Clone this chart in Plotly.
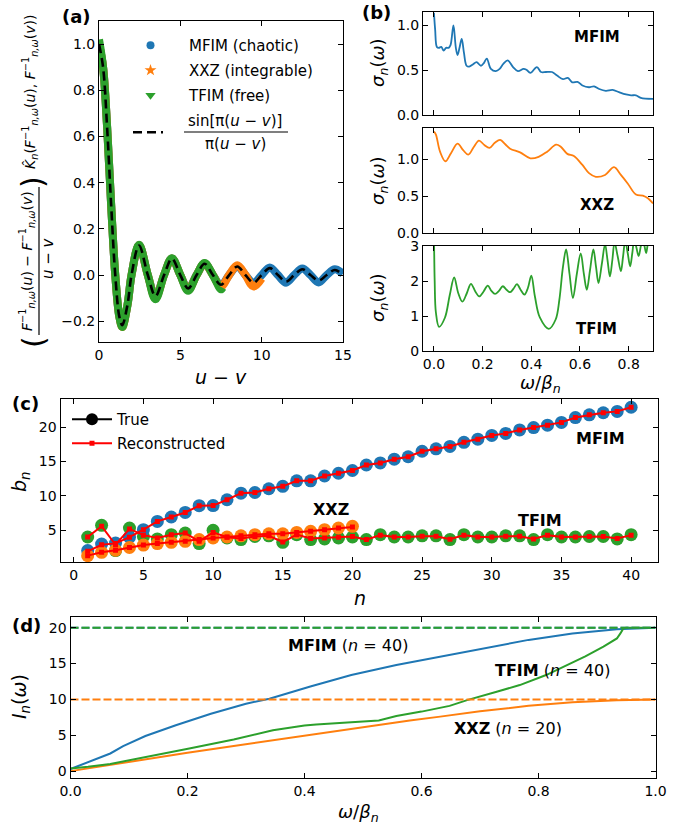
import plotly.graph_objects as go

W, H = 683, 829
FONT = "DejaVu Sans"
BLUE, ORANGE, GREEN, RED = "#1f77b4", "#ff7f0e", "#2ca02c", "#ff0000"

# ---------------- panel (a): kernel vs u - v ----------------
uv = [0, 0.25, 0.5, 0.75, 1.0, 1.25, 1.43, 1.75, 2.0, 2.46, 3.0, 3.47, 4.0, 4.48, 5.0,
      5.48, 6.0, 6.49, 7.0, 7.5, 8.0, 8.5, 9.0, 9.5, 10.0, 10.5, 11.0, 11.5, 12.0,
      12.5, 13.0, 13.5, 14.0, 14.5, 15.0]
sinc_ref = [1.0, 0.900, 0.637, 0.300, 0.0, -0.180, -0.217, -0.129, 0.0, 0.128, 0.0,
            -0.091, 0.0, 0.071, 0.0, -0.058, 0.0, 0.049, 0.0, -0.042, 0.0, 0.037, 0.0,
            -0.033, 0.0, 0.030, 0.0, -0.028, 0.0, 0.025, 0.0, -0.024, 0.0, 0.022, 0.0]
kernel_mfim = [1.0, 0.90, 0.64, 0.30, 0.0, -0.18, -0.22, -0.13, 0.0, 0.13, 0.0, -0.095,
               0.0, 0.072, 0.0, -0.06, 0.0, 0.05, 0.0, -0.045, 0.0, 0.038, 0.0, -0.035,
               0.0, 0.033, 0.0, -0.033, 0.0, 0.028, 0.0, -0.032, 0.0, 0.025, 0.005]
uv_xxz = uv[:25]
kernel_xxz = [1.0, 0.90, 0.64, 0.30, 0.0, -0.18, -0.225, -0.13, 0.0, 0.13, 0.0, -0.10,
              0.0, 0.072, 0.0, -0.065, 0.0, 0.05, 0.0, -0.05, 0.0, 0.042, 0.0, -0.05, -0.015]
uv_tfim = uv[:20] + [7.6]
kernel_tfim = [1.02, 0.90, 0.64, 0.30, 0.0, -0.18, -0.225, -0.13, 0.0, 0.131, 0.0, -0.105,
               0.0, 0.073, 0.0, -0.068, 0.0, 0.052, 0.0, -0.062, -0.055]

# ---------------- panel (b): sigma_n(omega) ----------------
omega_mfim = [0.0, 0.005, 0.012, 0.02, 0.03, 0.04, 0.05, 0.06, 0.068, 0.08, 0.09, 0.097,
              0.105, 0.114, 0.123, 0.134, 0.145, 0.16, 0.175, 0.193, 0.205, 0.217, 0.234,
              0.254, 0.27, 0.285, 0.303, 0.325, 0.345, 0.368, 0.38, 0.396, 0.423, 0.44,
              0.46, 0.485, 0.506, 0.53, 0.55, 0.568, 0.59, 0.61, 0.637, 0.658, 0.679,
              0.706, 0.734, 0.76, 0.789, 0.81, 0.83, 0.85, 0.9]
sigma_mfim = [1.14, 0.95, 0.76, 0.75, 0.76, 0.72, 0.75, 0.75, 0.78, 1.0, 0.75, 0.67,
              0.75, 0.85, 0.70, 0.55, 0.54, 0.565, 0.59, 0.55, 0.58, 0.63, 0.515, 0.49,
              0.515, 0.57, 0.61, 0.535, 0.49, 0.515, 0.505, 0.47, 0.535, 0.48, 0.48, 0.48,
              0.44, 0.40, 0.415, 0.365, 0.37, 0.33, 0.31, 0.32, 0.29, 0.27, 0.28, 0.255,
              0.23, 0.22, 0.22, 0.19, 0.18]
omega_xxz = [0.0, 0.008, 0.025, 0.047, 0.07, 0.097, 0.12, 0.141, 0.163, 0.185, 0.207,
             0.228, 0.25, 0.272, 0.293, 0.313, 0.354, 0.396, 0.43, 0.465, 0.502, 0.52,
             0.548, 0.575, 0.61, 0.637, 0.665, 0.703, 0.74, 0.768, 0.796, 0.83, 0.858,
             0.879, 0.9]
sigma_xxz = [1.37, 1.33, 1.10, 0.97, 1.08, 1.21, 1.12, 1.06, 1.16, 1.25, 1.19, 1.15,
             1.22, 1.26, 1.20, 1.14, 1.09, 1.01, 1.03, 1.10, 1.195, 1.17, 1.07, 1.04,
             0.92, 0.81, 0.76, 0.785, 0.89, 0.785, 0.67, 0.52, 0.505, 0.47, 0.40]
omega_tfim = [0.0, 0.003, 0.008, 0.021, 0.045, 0.065, 0.083, 0.1, 0.117, 0.135, 0.152,
              0.17, 0.186, 0.204, 0.221, 0.236, 0.251, 0.267, 0.283, 0.298, 0.313, 0.327,
              0.341, 0.356, 0.372, 0.386, 0.4, 0.415, 0.435, 0.472, 0.5, 0.515, 0.53,
              0.543, 0.557, 0.571, 0.587, 0.603, 0.616, 0.628, 0.641, 0.655, 0.666, 0.676,
              0.69, 0.703, 0.713, 0.723, 0.733, 0.742, 0.755, 0.768, 0.777, 0.786, 0.796,
              0.806, 0.815, 0.823, 0.832, 0.841, 0.85, 0.858, 0.865, 0.872, 0.88, 0.888, 0.9]
sigma_tfim = [3.5, 2.0, 1.1, 0.69, 0.95, 1.6, 2.1, 1.65, 1.41, 1.65, 1.92, 1.7, 1.56,
              1.7, 1.87, 1.72, 1.63, 1.72, 1.85, 1.75, 1.68, 1.78, 1.91, 1.75, 1.61, 1.8,
              2.15, 1.55, 0.96, 0.635, 0.9, 1.45, 2.4, 2.9, 2.2, 1.51, 2.2, 2.79, 2.2,
              1.75, 2.3, 2.9, 2.4, 1.94, 2.5, 3.05, 2.6, 2.13, 2.6, 3.1, 2.7, 2.28, 2.7,
              3.15, 2.8, 2.42, 2.8, 3.2, 2.95, 2.71, 3.0, 3.2, 3.0, 2.8, 3.1, 3.2, 3.1]

# ---------------- panel (c): Lanczos coefficients b_n ----------------
n_40 = list(range(1, 41))
n_20 = list(range(1, 21))
bn_mfim_true = [2.05, 3.0, 3.15, 4.0, 5.1, 6.3, 6.94, 7.6, 8.58, 8.6, 9.45, 10.4, 10.5,
                11.05, 11.4, 12.2, 12.2, 12.9, 13.3, 13.7, 14.5, 14.8, 15.35, 15.7, 16.5,
                16.85, 17.2, 17.8, 18.26, 18.8, 19.1, 19.6, 19.95, 20.3, 20.7, 21.4, 21.8,
                22.1, 22.3, 22.9]
bn_mfim_rec = [1.95, 2.9, 3.1, 4.0, 5.1, 6.3, 6.94, 7.6, 8.58, 8.6, 9.45, 10.4, 10.5,
               11.05, 11.4, 12.2, 12.2, 12.9, 13.3, 13.7, 14.5, 14.8, 15.35, 15.7, 16.5,
               16.85, 17.2, 17.8, 18.26, 18.8, 19.1, 19.6, 19.95, 20.3, 20.7, 21.4, 21.8,
               22.1, 22.3, 22.9]
bn_xxz_true = [1.32, 1.8, 2.1, 2.5, 2.85, 3.07, 3.26, 3.4, 3.65, 3.9, 4.03, 4.2, 4.37,
               4.5, 4.5, 4.7, 4.86, 5.1, 5.34, 5.58]
bn_xxz_rec = [1.32, 1.8, 2.1, 2.5, 2.85, 3.07, 3.26, 3.4, 3.65, 3.9, 4.03, 4.2, 4.37,
              4.5, 4.5, 4.7, 4.86, 5.1, 5.34, 5.5]
bn_tfim_true = [4.03, 5.73, 2.05, 5.34, 4.1, 3.75, 4.37, 4.6, 3.07, 5.0, 3.9, 3.65, 4.1,
                4.2, 3.26, 4.37, 3.65, 3.75, 3.9, 4.03, 3.65, 4.37, 4.03, 4.03, 4.2, 4.2,
                3.65, 4.37, 4.03, 4.03, 4.2, 4.2, 3.65, 4.37, 4.03, 4.03, 4.1, 4.1, 3.75,
                4.37]
bn_tfim_rec = [4.03, 5.6, 2.9, 5.2, 4.3, 3.9, 4.37, 4.6, 3.4, 4.7, 4.0, 3.8, 4.1, 4.2,
               3.3, 4.37, 3.8, 3.9, 4.0, 4.1, 3.65, 4.3, 4.03, 4.03, 4.15, 4.15, 3.7,
               4.3, 4.03, 4.03, 4.15, 4.15, 3.75, 4.3, 4.03, 4.03, 4.1, 4.1, 3.8, 4.3]

# ---------------- panel (d): I_n(omega) ----------------
w_mfim = [0.0, 0.03, 0.068, 0.09, 0.128, 0.18, 0.24, 0.30, 0.34, 0.41, 0.48, 0.557,
          0.632, 0.708, 0.783, 0.858, 0.934, 1.0]
I_mfim = [0.3, 1.3, 2.46, 3.5, 4.9, 6.4, 8.0, 9.4, 10.1, 11.8, 13.4, 14.8, 15.95, 17.1,
          18.3, 19.2, 19.77, 20.0]
w_tfim = [0.0, 0.03, 0.068, 0.128, 0.203, 0.279, 0.346, 0.4, 0.42, 0.48, 0.527, 0.557,
          0.6, 0.648, 0.678, 0.73, 0.768, 0.813, 0.85, 0.88, 0.911, 0.934, 0.94, 0.945,
          0.95, 1.0]
I_tfim = [0.37, 0.6, 1.0, 2.0, 3.16, 4.4, 5.7, 6.35, 6.5, 6.8, 7.05, 7.7, 8.3, 9.1,
          9.9, 11.1, 12.0, 13.4, 14.8, 16.0, 17.35, 18.5, 19.2, 19.9, 20.0, 20.0]
w_xxz = [0.0, 0.068, 0.128, 0.2, 0.279, 0.354, 0.41, 0.48, 0.53, 0.58, 0.632, 0.7,
         0.783, 0.858, 0.934, 1.0]
I_xxz = [0.0, 0.9, 1.67, 2.56, 3.5, 4.4, 5.1, 5.9, 6.45, 7.05, 7.6, 8.35, 9.1, 9.6,
         9.9, 10.0]
w_limits = [0.0, 1.0]
I_limit_mfim = [20, 20]
I_limit_xxz = [10, 10]
I_limit_tfim = [20, 20]

# ================= figure =================
fig = go.Figure()

def dom_x(a, b):
    return [a / W, b / W]

def dom_y(top, bottom):
    return [1 - bottom / H, 1 - top / H]

def axis(domain, rng, tickvals, ticktext=None, labels=True, anchor=None):
    d = dict(domain=domain, range=rng, showline=True, linecolor="black", linewidth=1,
             mirror="allticks", ticks="inside", ticklen=5, tickwidth=1, tickcolor="black",
             showgrid=False, zeroline=False, tickvals=tickvals, showticklabels=labels,
             automargin=False,
             tickfont=dict(family=FONT, size=14, color="black"), anchor=anchor)
    if ticktext is not None:
        d["ticktext"] = ticktext
    return d

# panel (a) traces
fig.add_trace(go.Scatter(x=uv, y=kernel_mfim, mode="lines", line=dict(color=BLUE, width=8, shape="spline"),
                         showlegend=False, xaxis="x", yaxis="y"))
fig.add_trace(go.Scatter(x=uv_xxz, y=kernel_xxz, mode="lines", line=dict(color=ORANGE, width=8, shape="spline"),
                         showlegend=False, xaxis="x", yaxis="y"))
fig.add_trace(go.Scatter(x=uv_tfim, y=kernel_tfim, mode="lines", line=dict(color=GREEN, width=8, shape="spline"),
                         showlegend=False, xaxis="x", yaxis="y"))
fig.add_trace(go.Scatter(x=uv, y=sinc_ref, mode="lines",
                         line=dict(color="black", width=2.6, dash="9px,5px", shape="spline"),
                         showlegend=False, xaxis="x", yaxis="y"))
# legend entries for (a)
for nm, col, sym, sz in (("MFIM (chaotic)", BLUE, "circle", 8), ("XXZ (integrable)", ORANGE, "star", 9),
                         ("TFIM (free)", GREEN, "triangle-down", 9)):
    fig.add_trace(go.Scatter(x=[None], y=[None], mode="markers", name=nm, legendgroup=nm,
                             marker=dict(color=col, size=sz, symbol=sym), legend="legend",
                             xaxis="x", yaxis="y"))
fig.add_trace(go.Scatter(x=[None], y=[None], mode="lines", name=" ",
                         line=dict(color="black", width=2.6, dash="9px,5px"), legend="legend3", xaxis="x", yaxis="y"))

# panel (b) traces
fig.add_trace(go.Scatter(x=omega_mfim, y=sigma_mfim, mode="lines", line=dict(color=BLUE, width=1.8, shape="spline"),
                         showlegend=False, xaxis="x2", yaxis="y2"))
fig.add_trace(go.Scatter(x=omega_xxz, y=sigma_xxz, mode="lines", line=dict(color=ORANGE, width=1.8, shape="spline"),
                         showlegend=False, xaxis="x3", yaxis="y3"))
fig.add_trace(go.Scatter(x=omega_tfim, y=sigma_tfim, mode="lines", line=dict(color=GREEN, width=1.8, shape="spline"),
                         showlegend=False, xaxis="x4", yaxis="y4"))

# panel (c) traces
fig.add_trace(go.Scatter(x=n_40, y=bn_tfim_true, mode="markers", marker=dict(color=GREEN, size=13),
                         showlegend=False, xaxis="x5", yaxis="y5"))
fig.add_trace(go.Scatter(x=n_40, y=bn_mfim_true, mode="markers", marker=dict(color=BLUE, size=13),
                         showlegend=False, xaxis="x5", yaxis="y5"))
fig.add_trace(go.Scatter(x=n_20, y=bn_xxz_true, mode="markers", marker=dict(color=ORANGE, size=13),
                         showlegend=False, xaxis="x5", yaxis="y5"))
for yy, nn in ((bn_mfim_rec, n_40), (bn_xxz_rec, n_20), (bn_tfim_rec, n_40)):
    fig.add_trace(go.Scatter(x=nn, y=yy, mode="lines+markers", line=dict(color=RED, width=2),
                             marker=dict(color=RED, size=5, symbol="square"),
                             showlegend=False, xaxis="x5", yaxis="y5"))
fig.add_trace(go.Scatter(x=[None], y=[None], mode="lines+markers", name="True", legendgroup="t",
                         line=dict(color="black", width=2), marker=dict(color="black", size=12),
                         legend="legend2", xaxis="x5", yaxis="y5"))
fig.add_trace(go.Scatter(x=[None], y=[None], mode="lines+markers", name="Reconstructed", legendgroup="r",
                         line=dict(color=RED, width=2), marker=dict(color=RED, size=5, symbol="square"),
                         legend="legend2", xaxis="x5", yaxis="y5"))

# panel (d) traces
fig.add_trace(go.Scatter(x=w_mfim, y=I_mfim, mode="lines", line=dict(color=BLUE, width=2),
                         showlegend=False, xaxis="x6", yaxis="y6"))
fig.add_trace(go.Scatter(x=w_xxz, y=I_xxz, mode="lines", line=dict(color=ORANGE, width=2),
                         showlegend=False, xaxis="x6", yaxis="y6"))
fig.add_trace(go.Scatter(x=w_tfim, y=I_tfim, mode="lines", line=dict(color=GREEN, width=2),
                         showlegend=False, xaxis="x6", yaxis="y6"))
for yy, cc in ((I_limit_mfim, BLUE), (I_limit_xxz, ORANGE), (I_limit_tfim, GREEN)):
    fig.add_trace(go.Scatter(x=w_limits, y=yy, mode="lines", line=dict(color=cc, width=2, dash="8px,3px"),
                             showlegend=False, xaxis="x6", yaxis="y6"))

# ---------------- layout / axes ----------------
bx = dom_x(423, 653)
fig.update_layout(
    width=W, height=H, margin=dict(l=0, r=0, t=0, b=0, pad=0, autoexpand=False),
    paper_bgcolor="white", plot_bgcolor="white",
    font=dict(family=FONT, color="black"),
    xaxis=axis(dom_x(99, 343), [0, 15], [0, 5, 10, 15], anchor="y"),
    yaxis=axis(dom_y(21, 342), [-0.29, 1.10], [-0.2, 0, 0.2, 0.4, 0.6, 0.8, 1.0],
               ["\u22120.2", "0.0", "0.2", "0.4", "0.6", "0.8", "1.0"], anchor="x"),
    xaxis2=axis(bx, [-0.045, 0.9], [0, 0.2, 0.4, 0.6, 0.8], labels=False, anchor="y2"),
    yaxis2=axis(dom_y(12, 115), [0, 1.15], [0, 0.5, 1.0], ["0.0", "0.5", "1.0"], anchor="x2"),
    xaxis3=axis(bx, [-0.045, 0.9], [0, 0.2, 0.4, 0.6, 0.8], labels=False, anchor="y3"),
    yaxis3=axis(dom_y(128, 233), [0, 1.42], [0, 0.5, 1.0], ["0.0", "0.5", "1.0"], anchor="x3"),
    xaxis4=axis(bx, [-0.045, 0.9], [0, 0.2, 0.4, 0.6, 0.8], ["0.0", "0.2", "0.4", "0.6", "0.8"], anchor="y4"),
    yaxis4=axis(dom_y(246, 351), [0, 3], [0, 1, 2, 3], anchor="x4"),
    xaxis5=axis(dom_x(60.5, 658.3), [-0.95, 41.95], [0, 5, 10, 15, 20, 25, 30, 35, 40], anchor="y5"),
    yaxis5=axis(dom_y(399, 562.3), [0.35, 24.1], [5, 10, 15, 20], anchor="x5"),
    xaxis6=axis(dom_x(70.5, 655.5), [0, 1], [0, 0.2, 0.4, 0.6, 0.8, 1.0],
                ["0.0", "0.2", "0.4", "0.6", "0.8", "1.0"], anchor="y6"),
    yaxis6=axis(dom_y(617.3, 778.3), [-1.0, 21.45], [0, 5, 10, 15, 20], anchor="x6"),
    legend=dict(x=112 / W, y=1 - 29 / H, xanchor="left", yanchor="top", bgcolor="rgba(0,0,0,0)",
                font=dict(family=FONT, size=15, color="black"), tracegroupgap=2.5, itemwidth=67),
    legend2=dict(x=67 / W, y=1 - 403 / H, xanchor="left", yanchor="top", bgcolor="rgba(0,0,0,0)",
                 font=dict(family=FONT, size=15, color="black"), tracegroupgap=1.5, itemwidth=40),
    legend3=dict(x=128 / W, y=1 - 116 / H, xanchor="left", yanchor="top", bgcolor="rgba(0,0,0,0)",
                 font=dict(family=FONT, size=15, color="black")),
)

annotations = []
def ann(px, py, text, size=15, angle=0, xanchor="center"):
    annotations.append(dict(x=px / W, y=1 - py / H, xref="paper", yref="paper", text=text,
                            showarrow=False, textangle=angle, xanchor=xanchor, yanchor="middle",
                            font=dict(family=FONT, size=size, color="black")))

Finv = "<i>F</i><sup>\u22121</sup><sub><i>n,\u03c9</i></sub>"
# panel labels
ann(76, 17, "<b>(a)</b>", 18)
ann(376, 13, "<b>(b)</b>", 18)
ann(25, 403, "<b>(c)</b>", 18)
ann(26, 625, "<b>(d)</b>", 18)
# legend fraction for (a)
ann(235, 121, "sin[\u03c0(<i>u</i> \u2212 <i>v</i>)]", 15)
ann(235, 144, "\u03c0(<i>u</i> \u2212 <i>v</i>)", 15)
# panel (a) y-label built from pieces
ann(27, 261, Finv + "(<i>u</i>) \u2212 " + Finv + "(<i>v</i>)", 14, -90)
ann(48, 258, "<i>u</i> \u2212 <i>v</i>", 15, -90)
ann(33, 342, "(", 30, -90)
ann(33, 182, ")", 30, -90)
ann(30, 92, "<i>K\u0302</i><sub><i>n</i></sub>(" + Finv + "(<i>u</i>), " + Finv + "(<i>v</i>))", 14, -90)
# axis titles
ann(221, 377, "<i>u</i> \u2212 <i>v</i>", 19)
ann(540, 384, "<i>\u03c9</i>/<i>\u03b2</i><sub><i>n</i></sub>", 18)
ann(360, 598, "<i>n</i>", 19)
ann(358, 813, "<i>\u03c9</i>/<i>\u03b2</i><sub><i>n</i></sub>", 18)
for yc in (63, 181, 298):
    ann(379, yc, "<i>\u03c3</i><sub><i>n</i></sub>(<i>\u03c9</i>)", 18, -90)
ann(20, 482, "<i>b</i><sub><i>n</i></sub>", 19, -90)
ann(20, 697, "<i>I</i><sub><i>n</i></sub>(<i>\u03c9</i>)", 19, -90)
# in-panel labels
ann(597, 37, "<b>MFIM</b>", 15)
ann(597, 205, "<b>XXZ</b>", 15)
ann(596, 329, "<b>TFIM</b>", 15)
ann(600, 438, "<b>MFIM</b>", 16)
ann(331, 510, "<b>XXZ</b>", 16)
ann(540, 520, "<b>TFIM</b>", 16)
ann(348, 645, "<b>MFIM</b> (<i>n</i> = 40)", 16)
ann(552, 670, "<b>TFIM</b> (<i>n</i> = 40)", 16)
ann(508, 728, "<b>XXZ</b> (<i>n</i> = 20)", 16)

fig.update_layout(annotations=annotations,
                  shapes=[dict(type="line", xref="paper", yref="paper", x0=184 / W, x1=288 / W,
                               y0=1 - 132 / H, y1=1 - 132 / H, line=dict(color="black", width=1.2)),
                          dict(type="line", xref="paper", yref="paper", x0=39 / W, x1=39 / W,
                               y0=1 - 335 / H, y1=1 - 187 / H, line=dict(color="black", width=1.2))])

fig.write_html("out.html", config={"displayModeBar": False},
               post_script="document.body.style.margin='0px';")
